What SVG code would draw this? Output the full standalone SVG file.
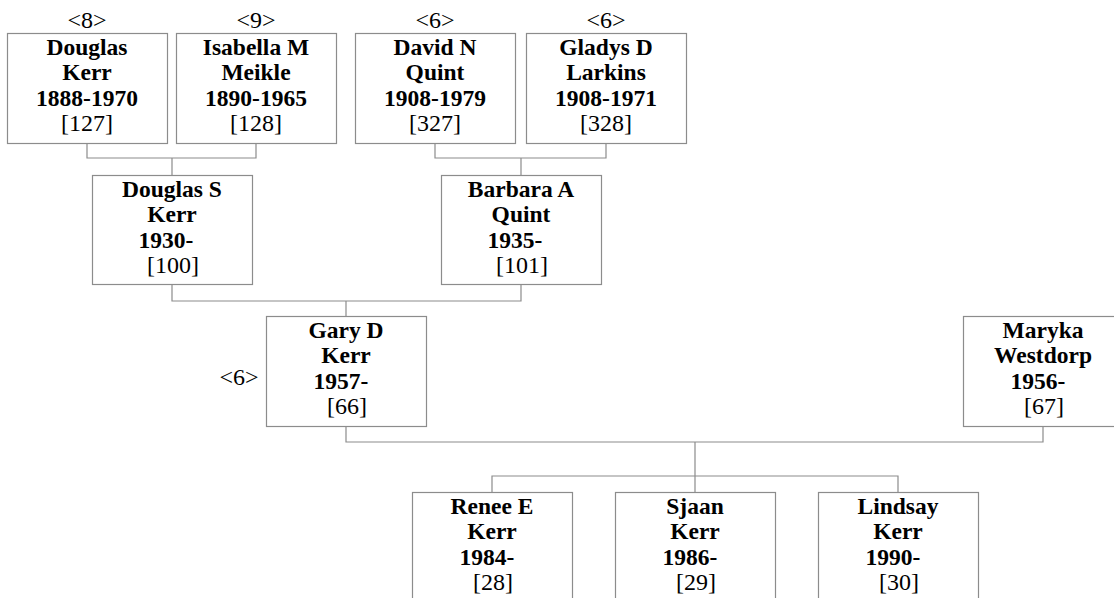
<svg xmlns="http://www.w3.org/2000/svg" width="1114" height="598" viewBox="0 0 1114 598">
<style>
.box{fill:#fff;stroke:#8c8c8c;stroke-width:1.2}
.ln{fill:none;stroke:#8c8c8c;stroke-width:1.2}
.b{font-family:"Liberation Serif","Times New Roman",serif;font-size:23.5px;font-weight:bold;text-anchor:middle;fill:#000}
.r{font-family:"Liberation Serif","Times New Roman",serif;font-size:24px;text-anchor:middle;fill:#000}
</style>
<rect width="1114" height="598" fill="#fff"/>
<g id="connectors">
<path class="ln" d="M87,143V158H256V143M172,158V175"/>
<path class="ln" d="M435,143V158H606V143M521,158V175"/>
<path class="ln" d="M172,284V301H521V284M346,301V316"/>
<path class="ln" d="M346,426V442H1043V426M695,442V492M492,492V476H898V492"/>
</g>
<g id="n127">
<text class="r" x="87" y="28">&lt;8&gt;</text>
<rect class="box" x="7.5" y="33.5" width="160" height="110"/>
<text class="b" x="87" y="55">Douglas</text>
<text class="b" x="87" y="80">Kerr</text>
<text class="b" x="87" y="106">1888-1970</text>
<text class="r" x="87" y="131">[127]</text>
</g>
<g id="n128">
<text class="r" x="256" y="28">&lt;9&gt;</text>
<rect class="box" x="176.5" y="33.5" width="160" height="110"/>
<text class="b" x="256" y="55">Isabella M</text>
<text class="b" x="256" y="80">Meikle</text>
<text class="b" x="256" y="106">1890-1965</text>
<text class="r" x="256" y="131">[128]</text>
</g>
<g id="n327">
<text class="r" x="435" y="28">&lt;6&gt;</text>
<rect class="box" x="355.5" y="33.5" width="160" height="110"/>
<text class="b" x="435" y="55">David N</text>
<text class="b" x="435" y="80">Quint</text>
<text class="b" x="435" y="106">1908-1979</text>
<text class="r" x="435" y="131">[327]</text>
</g>
<g id="n328">
<text class="r" x="606" y="28">&lt;6&gt;</text>
<rect class="box" x="526.5" y="33.5" width="160" height="110"/>
<text class="b" x="606" y="55">Gladys D</text>
<text class="b" x="606" y="80">Larkins</text>
<text class="b" x="606" y="106">1908-1971</text>
<text class="r" x="606" y="131">[328]</text>
</g>
<g id="n100">
<rect class="box" x="92.5" y="175.5" width="160" height="109"/>
<text class="b" x="172" y="197">Douglas S</text>
<text class="b" x="172" y="222">Kerr</text>
<text class="b" x="166" y="248">1930-</text>
<text class="r" x="173" y="273">[100]</text>
</g>
<g id="n101">
<rect class="box" x="441.5" y="175.5" width="160" height="109"/>
<text class="b" x="521" y="197">Barbara A</text>
<text class="b" x="521" y="222">Quint</text>
<text class="b" x="515" y="248">1935-</text>
<text class="r" x="522" y="273">[101]</text>
</g>
<g id="n66">
<text class="r" x="239" y="385">&lt;6&gt;</text>
<rect class="box" x="266.5" y="316.5" width="160" height="110"/>
<text class="b" x="346" y="338">Gary D</text>
<text class="b" x="346" y="363">Kerr</text>
<text class="b" x="341" y="389">1957-</text>
<text class="r" x="347" y="414">[66]</text>
</g>
<g id="n67">
<rect class="box" x="963.5" y="316.5" width="160" height="110"/>
<text class="b" x="1043" y="338">Maryka</text>
<text class="b" x="1043" y="363">Westdorp</text>
<text class="b" x="1038" y="389">1956-</text>
<text class="r" x="1044" y="414">[67]</text>
</g>
<g id="n28">
<rect class="box" x="412.5" y="492.5" width="160" height="110"/>
<text class="b" x="492" y="514">Renee E</text>
<text class="b" x="492" y="539">Kerr</text>
<text class="b" x="487" y="565">1984-</text>
<text class="r" x="493" y="590">[28]</text>
</g>
<g id="n29">
<rect class="box" x="615.5" y="492.5" width="160" height="110"/>
<text class="b" x="695" y="514">Sjaan</text>
<text class="b" x="695" y="539">Kerr</text>
<text class="b" x="690" y="565">1986-</text>
<text class="r" x="696" y="590">[29]</text>
</g>
<g id="n30">
<rect class="box" x="818.5" y="492.5" width="160" height="110"/>
<text class="b" x="898" y="514">Lindsay</text>
<text class="b" x="898" y="539">Kerr</text>
<text class="b" x="893" y="565">1990-</text>
<text class="r" x="899" y="590">[30]</text>
</g>
</svg>
